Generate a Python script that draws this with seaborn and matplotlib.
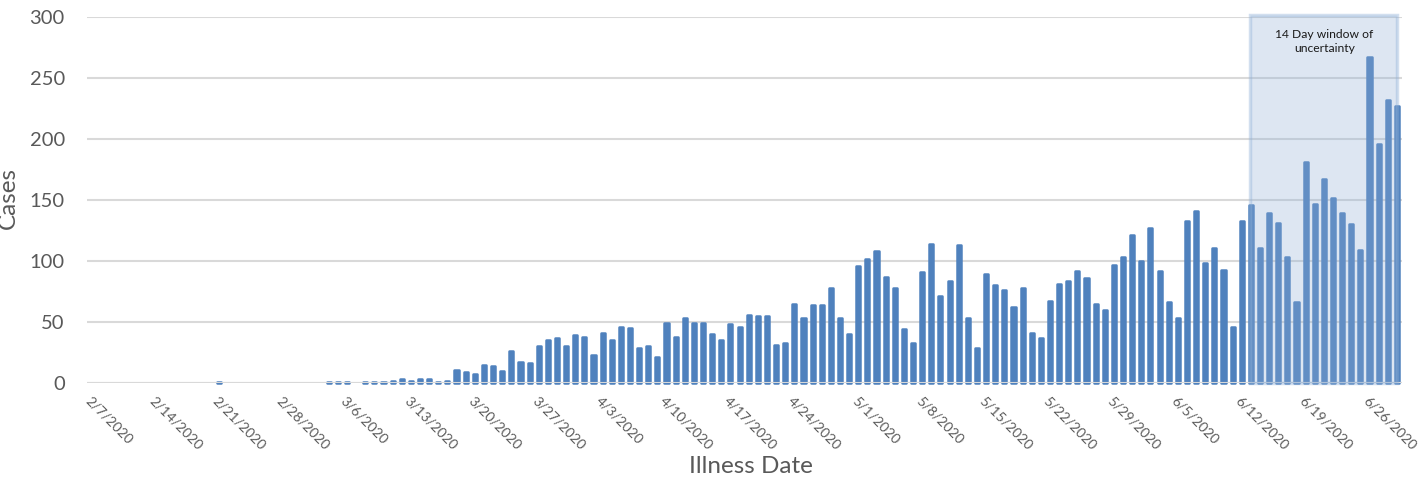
import numpy as np
import pandas as pd
import matplotlib
matplotlib.use("Agg")
import matplotlib.pyplot as plt
from matplotlib.patches import Rectangle
import seaborn as sns

# daily case counts by illness date, 2/7/2020 - 6/29/2020
feb = [0, 0, 0, 0, 0, 0, 0, 0, 0, 0, 0, 0, 0, 0, 1, 0, 0, 0, 0, 0, 0, 0, 0]
mar = [0, 0, 0, 1, 1, 1, 0, 1, 1, 1, 2, 3, 2, 3, 3, 1, 2, 11, 9, 7,
       15, 14, 10, 26, 17, 16, 30, 35, 37, 30, 39]
apr = [38, 23, 41, 35, 46, 45, 29, 30, 21, 49, 38, 53, 49, 49, 40, 35, 48, 46, 56, 55,
       55, 31, 33, 65, 53, 64, 64, 78, 53, 40]
may = [96, 102, 108, 87, 78, 44, 33, 91, 114, 71, 84, 113, 53, 29, 89, 80, 76, 62, 78, 41,
       37, 67, 81, 84, 92, 86, 65, 60, 97, 103, 121]
jun = [100, 127, 92, 66, 53, 133, 141, 98, 111, 93, 46, 133, 146, 111, 139, 131, 103, 66, 181, 147,
       167, 152, 139, 130, 109, 267, 196, 232, 227]

dates = pd.date_range("2020-02-07", "2020-06-29")
labels = [f"{d.month}/{d.day}/{d.year}" for d in dates]
cases = feb + mar + apr + may + jun

window_start = "6/13/2020"
window_end = "6/29/2020"
window_text = "14 Day window of\nuncertainty"

df = pd.DataFrame({"date": labels, "cases": cases})

sns.set_style("white")
plt.rcParams["font.family"] = ["Lato", "DejaVu Sans"]

bar_color = "#4F81BD"
grey = "#595959"

fig = plt.figure(figsize=(14.2, 4.79), dpi=100)
ax = fig.add_axes([0.0613, 0.2004, 0.926, 0.7641])

sns.barplot(data=df, x="date", y="cases", order=labels, color=bar_color,
            saturation=1, width=0.45, ax=ax, zorder=2)

# rounded ends like the original bars
for p, v in zip(ax.patches, cases):
    if v == 0:
        p.set_visible(False)
        continue
    p.set_edgecolor(bar_color)
    p.set_linewidth(1.8)
    p.set_joinstyle("round")
    p.set_clip_on(False)

ax.set_ylim(0, 300)
ax.set_xlim(-0.47, len(labels) - 0.45)
ax.set_yticks(range(0, 301, 50))
ax.yaxis.grid(True, color="#d9d9d9", lw=1.5)
ax.xaxis.grid(False)
ax.set_axisbelow(True)
ax.axhline(0, color="#d9d9d9", lw=1.5, zorder=3)
sns.despine(ax=ax, left=True, bottom=True)

tick_pos = list(range(0, len(labels), 7))
ax.set_xticks(tick_pos)
ax.set_xticklabels([labels[i] for i in tick_pos], rotation=-45, ha="left", va="top",
                   rotation_mode="anchor", fontsize=10, color=grey)
ax.tick_params(axis="x", length=0, pad=8)
ax.tick_params(axis="y", length=0, pad=16, labelsize=14.5, labelcolor=grey)

ax.set_xlabel("Illness Date", fontsize=17.5, color=grey)
ax.set_ylabel("Cases", fontsize=17.5, color=grey)
ax.xaxis.set_label_coords(0.505, -0.2)
ax.yaxis.set_label_coords(-0.052, 0.505)

# shaded 14 day window
x0 = labels.index(window_start) - 0.1
x1 = labels.index(window_end) + 0.05
shade = (143 / 255, 175 / 255, 215 / 255)
ax.add_patch(Rectangle((x0, 0), x1 - x0, 302, facecolor=shade + (0.3,),
                       edgecolor=shade + (0.4,), lw=2.5, zorder=4, clip_on=False))
ax.text((x0 + x1) / 2 + 0.1, 280, window_text, ha="center", va="center",
        fontsize=8.7, color="#1a1a1a", linespacing=1.4, zorder=5)

fig.savefig("out.png", dpi=100)
